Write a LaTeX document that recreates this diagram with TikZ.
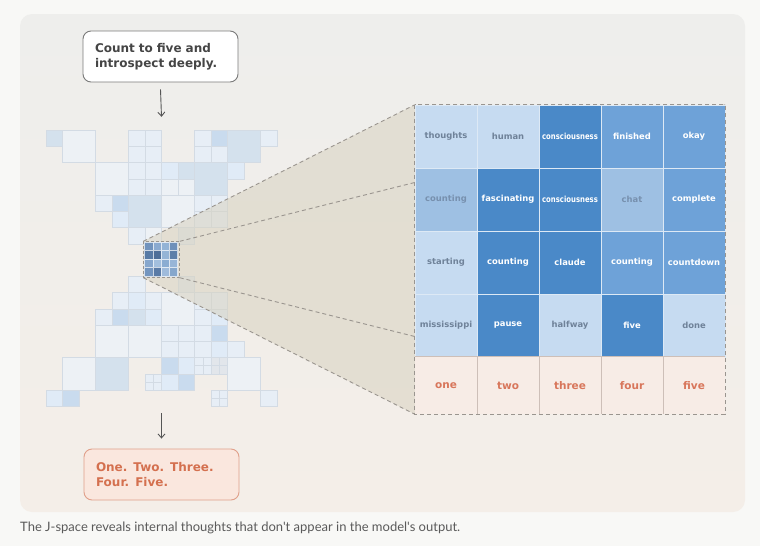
\documentclass[tikz,border=0pt]{standalone}
\usepackage{fontspec}
\setmainfont{DejaVu Sans}
\newfontfamily\capfont{Lato}
\usetikzlibrary{arrows.meta}
\definecolor{pagebg}{HTML}{F8F8F6}
\definecolor{panelTop}{HTML}{EEEEEC}
\definecolor{panelBot}{HTML}{F4EEE8}
\definecolor{boxline}{HTML}{7A7A7A}
\definecolor{boxtext}{HTML}{454545}
\definecolor{ansfill}{HTML}{FAE7DE}
\definecolor{ansline}{HTML}{E0A08A}
\definecolor{anstext}{HTML}{D4704F}
\definecolor{arrowc}{HTML}{555555}
\definecolor{dashc}{HTML}{9A958F}
\definecolor{projfill}{HTML}{D8D2C0}
\definecolor{cL}{HTML}{C6DBF1}
\definecolor{cLM}{HTML}{9EC0E3}
\definecolor{cM}{HTML}{6EA2D8}
\definecolor{cD}{HTML}{4A89C8}
\definecolor{tL}{HTML}{6F8299}
\definecolor{tLM}{HTML}{7790AE}
\definecolor{cellline}{HTML}{DDE9F5}
\definecolor{outfill}{HTML}{F7ECE6}
\definecolor{outline}{HTML}{CDBFB8}
\definecolor{outtext}{HTML}{D8765B}
\definecolor{capgray}{HTML}{5A5A5A}
\definecolor{mV}{HTML}{EDF1F5}
\definecolor{mL}{HTML}{E7EEF6}
\definecolor{mLL}{HTML}{E0EBF7}
\definecolor{mB}{HTML}{C9DBEE}
\definecolor{mBB}{HTML}{D4E1ED}
\definecolor{mG}{HTML}{E2E6EB}
\definecolor{medge}{HTML}{D3DBE4}
\begin{document}
\begin{tikzpicture}[x=1pt,y=-1pt,
  cellbase/.style={draw=cellline, line width=0.8pt, minimum width=62pt, minimum height=63pt, inner sep=0pt, font=\bfseries\fontsize{8.4}{10}\selectfont},
  cellL/.style={cellbase, fill=cL, text=tL},
  cellLM/.style={cellbase, fill=cLM, text=tLM},
  cellM/.style={cellbase, fill=cM, text=white},
  cellD/.style={cellbase, fill=cD, text=white},
  outcell/.style={fill=outfill, minimum width=62pt, minimum height=57pt, inner sep=0pt, text=outtext, font=\bfseries\fontsize{10.5}{12}\selectfont},
  promptbox/.style={draw=boxline, line width=0.9pt, fill=white, rounded corners=8pt, minimum width=155pt, minimum height=51pt, text width=131pt, align=left, inner xsep=12pt, text=boxtext, font=\bfseries\fontsize{12}{15.5}\selectfont},
  answerbox/.style={draw=ansline, line width=0.9pt, fill=ansfill, rounded corners=8pt, minimum width=155pt, minimum height=51pt, text width=131pt, align=left, inner xsep=12pt, text=anstext, font=\bfseries\fontsize{12}{15.5}\selectfont},
  arr/.style={draw=arrowc, line width=0.9pt, -{Straight Barb[length=4pt,width=7pt]}},
  proj/.style={draw=dashc, line width=0.9pt, dash pattern=on 4pt off 3pt},
  tile/.style={draw=medge, line width=0.5pt}
]
\useasboundingbox (0,0) rectangle (760,546);
\fill[pagebg] (0,0) rectangle (760,546);
\shade[rounded corners=12pt, top color=panelTop, bottom color=panelBot] (20,14) rectangle (745,512);

% mosaic tiles
\foreach \c/\r/\s/\k in {
 0/0/1/mBB, 1/0/2/mV, 5/0/1/mL, 6/0/1/mL, 5/1/1/mL, 6/1/1/mL, 5/2/1/mL, 6/2/1/mL, 5/3/1/mL, 6/3/1/mL,
 3/2/2/mV, 3/4/1/mL, 4/4/1/mB, 5/4/2/mBB, 4/5/1/mLL, 5/6/1/mL, 6/6/1/mV,
 9/0/1/mL, 10/0/1/mB, 11/0/2/mBB, 13/0/1/mL, 9/1/1/mL, 10/1/1/mL,
 7/2/1/mLL, 8/2/1/mBB, 9/2/2/mBB, 11/2/1/mLL, 7/3/1/mV, 8/3/1/mV,
 7/4/2/mV, 9/4/1/mL, 10/4/1/mL, 9/5/1/mL, 10/5/1/mL, 8/6/1/mG,
 5/9/1/mL, 8/9/1/mG,
 4/10/1/mL, 5/10/1/mLL, 6/10/1/mL, 7/10/2/mV, 9/10/1/mL, 10/10/1/mL,
 3/11/1/mL, 4/11/1/mB, 5/11/1/mBB, 6/11/1/mLL, 9/11/1/mL, 10/11/1/mLL,
 3/12/2/mV, 5/12/2/mV, 7/12/1/mL, 8/12/1/mL, 9/12/1/mL, 10/12/1/mB,
 7/13/1/mL, 8/13/1/mL, 9/13/1/mL, 10/13/1/mLL, 11/13/1/mL,
 1/14/2/mV, 3/14/2/mBB, 7/14/1/mB, 8/14/1/mLL, 11/14/2/mV,
 7/15/1/mLL, 8/15/1/mB,
 0/16/1/mLL, 1/16/1/mB, 13/16/1/mL}
 {\filldraw[tile, fill=\k] ({46+16.5*\c},{130+16.25*\r}) rectangle ++({16.5*\s},{16.25*\s});}
\foreach \c/\r/\k in {9/14/mL, 10/14/mG, 6/15/mL, 10/16/mL}
 {\filldraw[tile, fill=\k] ({46+16.5*\c},{130+16.25*\r}) rectangle ++(16.5,16.25);
  \draw[tile] ({46+16.5*\c+8.25},{130+16.25*\r}) -- ++(0,16.25);
  \draw[tile] ({46+16.5*\c},{130+16.25*\r+8.125}) -- ++(16.5,0);}

% named anchors
\node[minimum width=231pt, minimum height=276pt, inner sep=0pt] (mosaic) at (161.5,268) {};
\node[minimum size=36pt, inner sep=0pt] (zoombox) at (161.5,259.5) {};
\node[minimum width=310pt, minimum height=309pt, inner sep=0pt] (gridbox) at (570,259.5) {};

% projection
\fill[projfill, opacity=0.55] (zoombox.north west) -- (gridbox.north west) -- (gridbox.south west) -- (zoombox.south west) -- cycle;
\draw[proj] (zoombox.north west) -- (gridbox.north west);
\draw[proj] (zoombox.south west) -- (gridbox.south west);
\draw[proj] (zoombox.north east) -- (gridbox.north east);
\draw[proj] (zoombox.south east) -- (gridbox.south east);

% zoomed square
\foreach \i/\j/\h in {0/0/7193BD,1/0/8AAAD0,2/0/93B3D6,3/0/6F90BA,
                      0/1/587AA5,1/1/4E6E98,2/1/95B4D6,3/1/5D7FA9,
                      0/2/87A7CD,1/2/A3BFDD,2/2/8BADD2,3/2/97B5D7,
                      0/3/7395BF,1/3/5A7BA6,2/3/9FBBDB,3/3/86A7CC}
 {\definecolor{tmpc}{HTML}{\h}
  \filldraw[fill=tmpc, draw=white!70!tmpc, line width=0.4pt] ({144.5+8.25*\i},{242+8.5*\j}) rectangle ++(8.25,8.5);}
\draw[proj, line width=0.8pt, dash pattern=on 3pt off 2pt] (zoombox.north west) rectangle (zoombox.south east);

% grid
\node[cellL]  (r1c1) at (446,136.5) {thoughts};
\node[cellL]  (r1c2) at (508,136.5) {human};
\node[cellD]  (r1c3) at (570,136.5) {\scalebox{0.82}[1]{consciousness}};
\node[cellM]  (r1c4) at (632,136.5) {finished};
\node[cellM]  (r1c5) at (694,136.5) {okay};
\node[cellLM] (r2c1) at (446,199.5) {counting};
\node[cellD]  (r2c2) at (508,199.5) {fascinating};
\node[cellD]  (r2c3) at (570,199.5) {\scalebox{0.82}[1]{consciousness}};
\node[cellLM] (r2c4) at (632,199.5) {chat};
\node[cellM]  (r2c5) at (694,199.5) {complete};
\node[cellL]  (r3c1) at (446,262.5) {starting};
\node[cellD]  (r3c2) at (508,262.5) {counting};
\node[cellD]  (r3c3) at (570,262.5) {claude};
\node[cellM]  (r3c4) at (632,262.5) {counting};
\node[cellM]  (r3c5) at (694,262.5) {countdown};
\node[cellL]  (r4c1) at (446,325.5) {mississippi};
\node[cellD]  (r4c2) at (508,325.5) {pause};
\node[cellL]  (r4c3) at (570,325.5) {halfway};
\node[cellD]  (r4c4) at (632,325.5) {five};
\node[cellL]  (r4c5) at (694,325.5) {done};
\node[outcell] (o1) at (446,385.5) {one};
\node[outcell] (o2) at (508,385.5) {two};
\node[outcell] (o3) at (570,385.5) {three};
\node[outcell] (o4) at (632,385.5) {four};
\node[outcell] (o5) at (694,385.5) {five};
\draw[outline, line width=0.9pt] (o1.north west) -- (o5.north east);
\foreach \n in {1,2,3,4} {\draw[outline, line width=0.9pt] (o\n.north east) -- (o\n.south east);}
\draw[proj] (gridbox.north west) rectangle (gridbox.south east);

% prompt and answer
\node[promptbox] (prompt) at (160.5,56.5) {Count to five and\\introspect deeply.};
\node[answerbox] (answer) at (161.5,474.5) {One. Two. Three.\\Four. Five.};
\draw[arr] ([yshift=-7pt]prompt.south) -- ([yshift=13pt]mosaic.north);
\draw[arr] ([yshift=-7pt]mosaic.south) -- ([yshift=10pt]answer.north);

% caption
\node[anchor=base west, inner sep=0pt, text=capgray, font=\capfont\fontsize{13}{15}\selectfont] (caption) at (20,531) {The J-space reveals internal thoughts that don't appear in the model's output.};
\end{tikzpicture}
\end{document}
